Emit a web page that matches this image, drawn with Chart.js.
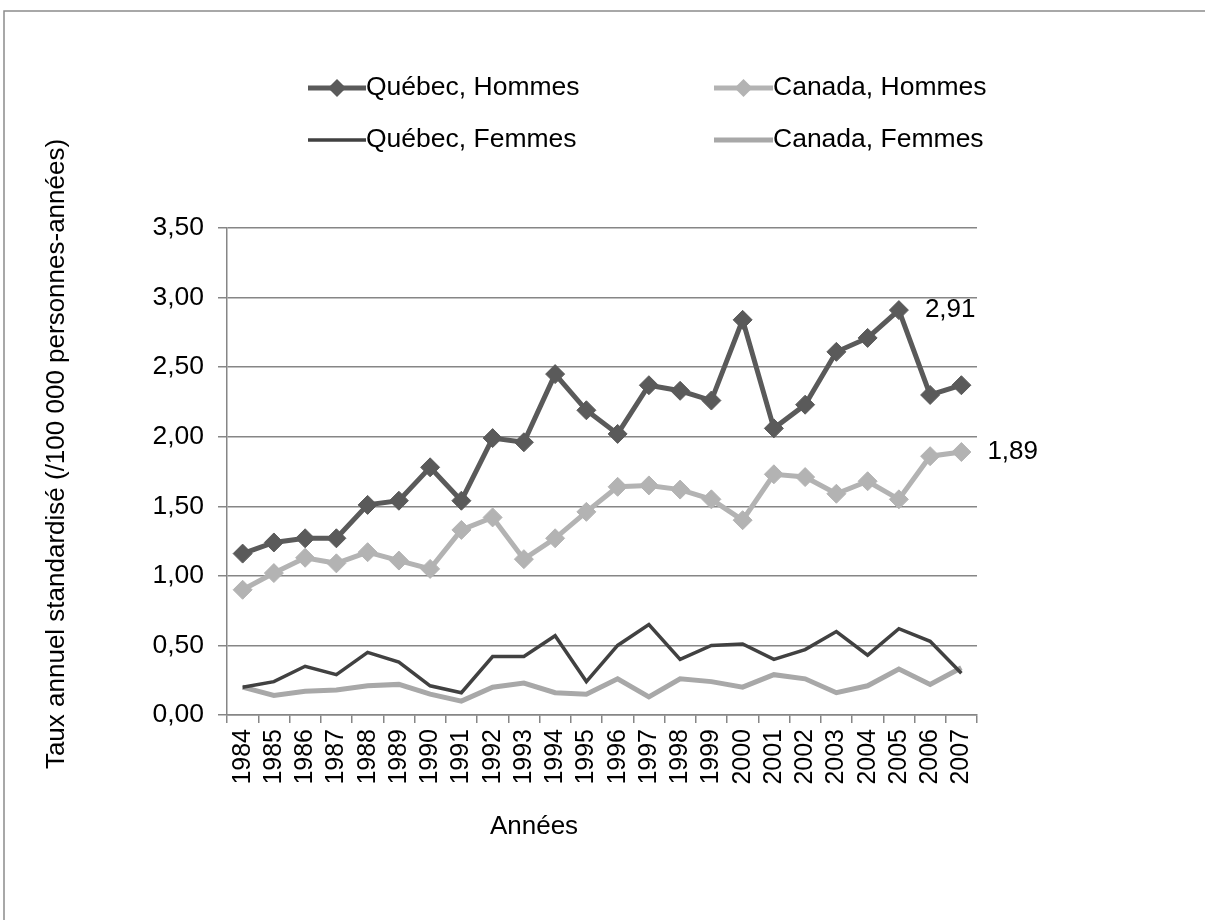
<!DOCTYPE html>
<html lang="fr">
<head>
<meta charset="utf-8">
<title>Taux annuel standardisé, Québec et Canada, 1984-2007</title>
<script src="https://cdn.jsdelivr.net/npm/chart.js@4.4.1/dist/chart.umd.min.js"></script>
<style>
  html, body { margin: 0; padding: 0; background: #ffffff; }
  #wrap { position: relative; width: 1205px; height: 920px; }
</style>
</head>
<body>
<div id="wrap"><canvas id="c"></canvas></div>
<script>
// Years on the horizontal axis
const years = ['1984','1985','1986','1987','1988','1989','1990','1991','1992','1993','1994','1995',
               '1996','1997','1998','1999','2000','2001','2002','2003','2004','2005','2006','2007'];

// Standardised annual rates (/100 000 person-years)
const quebecHommes = [1.16,1.24,1.27,1.27,1.51,1.54,1.78,1.54,1.99,1.96,2.45,2.19,
                      2.02,2.37,2.33,2.26,2.84,2.06,2.23,2.61,2.71,2.91,2.30,2.37];
const canadaHommes = [0.90,1.02,1.13,1.09,1.17,1.11,1.05,1.33,1.42,1.12,1.27,1.46,
                      1.64,1.65,1.62,1.55,1.40,1.73,1.71,1.59,1.68,1.55,1.86,1.89];
const quebecFemmes = [0.20,0.24,0.35,0.29,0.45,0.38,0.21,0.16,0.42,0.42,0.57,0.24,
                      0.50,0.65,0.40,0.50,0.51,0.40,0.47,0.60,0.43,0.62,0.53,0.30];
const canadaFemmes = [0.20,0.14,0.17,0.18,0.21,0.22,0.15,0.10,0.20,0.23,0.16,0.15,
                      0.26,0.13,0.26,0.24,0.20,0.29,0.26,0.16,0.21,0.33,0.22,0.34];

// Vertical axis ticks
const yTicks = [0, 0.5, 1, 1.5, 2, 2.5, 3, 3.5];

const seriesNames = ['Québec, Hommes', 'Canada, Hommes', 'Québec, Femmes', 'Canada, Femmes'];
const yTitle = 'Taux annuel standardisé (/100 000 personnes-années)';
const xTitle = 'Années';

const FONT = "'Liberation Sans', Arial, sans-serif";
const GRID = '#868686';
const fmt = v => v.toFixed(2).replace('.', ',');

// Points annotated with their value: [dataset index, point index]
const labelled = [[0, 21], [1, 23]];

const datasets = [
  { label: seriesNames[0], data: quebecHommes, borderColor: '#5a5a5a', backgroundColor: '#5a5a5a',
    borderWidth: 5, pointStyle: 'rectRot', pointRadius: 9.5, pointBorderWidth: 1, order: 1 },
  { label: seriesNames[1], data: canadaHommes, borderColor: '#b3b3b3', backgroundColor: '#b3b3b3',
    borderWidth: 5, pointStyle: 'rectRot', pointRadius: 9.5, pointBorderWidth: 1, order: 2 },
  { label: seriesNames[2], data: quebecFemmes, borderColor: '#414141', backgroundColor: '#414141',
    borderWidth: 3.5, pointRadius: 0, order: 3 },
  { label: seriesNames[3], data: canadaFemmes, borderColor: '#a8a8a8', backgroundColor: '#a8a8a8',
    borderWidth: 5, pointRadius: 0, order: 4 }
];

// Legend layout: two columns, two rows
const legendCols = [{ x0: 308, x1: 366 }, { x0: 714, x1: 773 }];
const legendRows = [88, 140];

const decorations = {
  id: 'decorations',
  beforeDraw(chart) {
    const ctx = chart.ctx;
    ctx.save();
    ctx.strokeStyle = '#8c8c8c';
    ctx.lineWidth = 1.5;
    ctx.beginPath();
    ctx.moveTo(4, 920);
    ctx.lineTo(4, 11);
    ctx.lineTo(1205, 11);
    ctx.stroke();
    ctx.restore();
  },
  afterDraw(chart) {
    const ctx = chart.ctx;
    ctx.save();
    ctx.fillStyle = '#000000';
    ctx.font = '26.5px ' + FONT;
    ctx.textBaseline = 'middle';

    // legend
    chart.data.datasets.forEach((ds, i) => {
      const col = legendCols[i % 2];
      const y = legendRows[Math.floor(i / 2)];
      ctx.strokeStyle = ds.borderColor;
      ctx.lineWidth = ds.borderWidth;
      ctx.beginPath();
      ctx.moveTo(col.x0, y);
      ctx.lineTo(col.x1, y);
      ctx.stroke();
      if (ds.pointRadius > 0) {
        const r = 9;
        const cx = (col.x0 + col.x1) / 2;
        ctx.fillStyle = ds.backgroundColor;
        ctx.beginPath();
        ctx.moveTo(cx, y - r);
        ctx.lineTo(cx + r, y);
        ctx.lineTo(cx, y + r);
        ctx.lineTo(cx - r, y);
        ctx.closePath();
        ctx.fill();
      }
      ctx.fillStyle = '#000000';
      ctx.textAlign = 'left';
      ctx.fillText(ds.label, col.x1, y);
    });

    // value labels
    ctx.font = '26px ' + FONT;
    labelled.forEach(([d, i]) => {
      const pt = chart.getDatasetMeta(d).data[i];
      ctx.textAlign = 'left';
      ctx.fillText(fmt(chart.data.datasets[d].data[i]), pt.x + 26, pt.y);
    });

    // axis titles
    ctx.textAlign = 'center';
    ctx.fillText(xTitle, 534, 827);
    ctx.translate(57, 454);
    ctx.rotate(-Math.PI / 2);
    ctx.fillText(yTitle, 0, 0);
    ctx.restore();
  }
};

Chart.defaults.font.family = FONT;
Chart.defaults.color = '#000000';

new Chart(document.getElementById('c'), {
  type: 'line',
  data: { labels: years, datasets },
  options: {
    responsive: true,
    maintainAspectRatio: false,
    animation: false,
    layout: { padding: { top: 228, right: 228, left: 0, bottom: 0 } },
    elements: { line: { tension: 0 } },
    plugins: { legend: { display: false }, tooltip: { enabled: false } },
    scales: {
      x: {
        type: 'category',
        offset: true,
        afterFit(scale) { scale.height = 205; },
        grid: { display: true, offset: true, drawOnChartArea: false, drawTicks: true,
                tickLength: 8, color: GRID, lineWidth: 1.5 },
        border: { display: true, color: GRID, width: 1.5 },
        ticks: { minRotation: 90, maxRotation: 90, autoSkip: false, padding: 6,
                 font: { size: 25, family: FONT }, color: '#000000' }
      },
      y: {
        min: 0,
        max: 3.5,
        afterFit(scale) { scale.width = 227; },
        afterBuildTicks(scale) { scale.ticks = yTicks.map(v => ({ value: v })); },
        grid: { color: GRID, lineWidth: 1.5, tickLength: 9, drawTicks: true },
        border: { display: true, color: GRID, width: 1.5 },
        ticks: { padding: 14, font: { size: 26.5, family: FONT }, color: '#000000',
                 callback: v => fmt(v) }
      }
    }
  },
  plugins: [decorations]
});
</script>
</body>
</html>
